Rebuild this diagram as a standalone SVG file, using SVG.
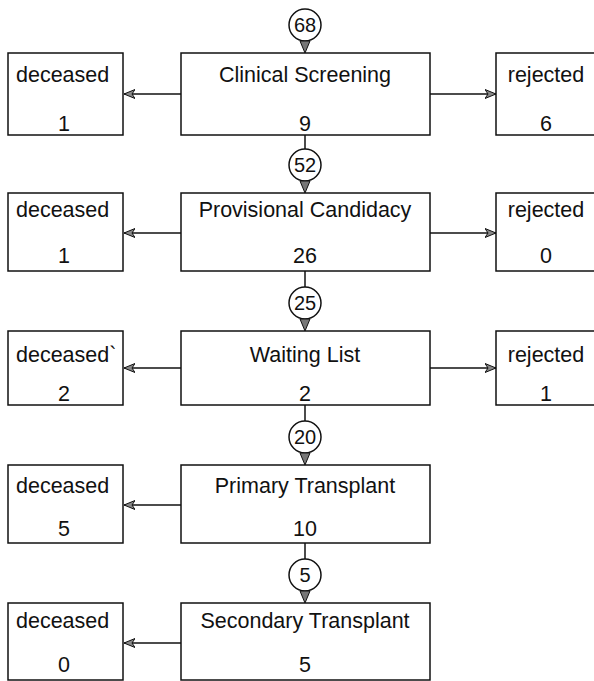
<svg xmlns="http://www.w3.org/2000/svg" width="594" height="681" viewBox="0 0 594 681">
<defs>
<style>
.box{fill:#fff;stroke:#111;stroke-width:1.5}
.t{font-family:"Liberation Sans",Arial,sans-serif;font-size:21.5px;fill:#111}
.c{font-family:"Liberation Sans",Arial,sans-serif;font-size:20px;fill:#111;text-anchor:middle}
.m{text-anchor:middle}
.ln{stroke:#111;stroke-width:1.5;fill:none}
.cnt{fill:#fff;stroke:#111;stroke-width:1.5}
.tip{fill:#777;stroke:#111;stroke-width:1}
</style>
<marker id="ah" viewBox="0 0 12 10" refX="11" refY="5" markerWidth="12" markerHeight="10" markerUnits="userSpaceOnUse" orient="auto">
<path d="M0,0.5 L11,5 L0,9.5 L3,5 Z" fill="#888" stroke="#111" stroke-width="1"/>
</marker>
</defs>
<rect width="594" height="681" fill="#fff"/>

<g id="connectors">
<line class="ln" x1="181" y1="94" x2="124" y2="94" marker-end="url(#ah)"/>
<line class="ln" x1="430" y1="94" x2="496" y2="94" marker-end="url(#ah)"/>
<line class="ln" x1="305" y1="135" x2="305" y2="149"/>
<line class="ln" x1="181" y1="233" x2="124" y2="233" marker-end="url(#ah)"/>
<line class="ln" x1="430" y1="233" x2="496" y2="233" marker-end="url(#ah)"/>
<line class="ln" x1="305" y1="271" x2="305" y2="287"/>
<line class="ln" x1="181" y1="368" x2="124" y2="368" marker-end="url(#ah)"/>
<line class="ln" x1="430" y1="368" x2="496" y2="368" marker-end="url(#ah)"/>
<line class="ln" x1="305" y1="405" x2="305" y2="421"/>
<line class="ln" x1="181" y1="505" x2="124" y2="505" marker-end="url(#ah)"/>
<line class="ln" x1="305" y1="543" x2="305" y2="559"/>
<line class="ln" x1="181" y1="643" x2="124" y2="643" marker-end="url(#ah)"/>
</g>

<g id="count68"><circle class="cnt" cx="305" cy="25" r="16"/><path class="tip" d="M300,41 L310,41 L305,53 Z"/><text class="c" x="305" y="32">68</text></g>
<g id="count52"><circle class="cnt" cx="305" cy="165" r="16"/><path class="tip" d="M300,181 L310,181 L305,193 Z"/><text class="c" x="305" y="172">52</text></g>
<g id="count25"><circle class="cnt" cx="305" cy="303" r="16"/><path class="tip" d="M300,319 L310,319 L305,331 Z"/><text class="c" x="305" y="310">25</text></g>
<g id="count20"><circle class="cnt" cx="305" cy="437" r="16"/><path class="tip" d="M300,453 L310,453 L305,465 Z"/><text class="c" x="305" y="444">20</text></g>
<g id="count5"><circle class="cnt" cx="305" cy="575" r="16"/><path class="tip" d="M300,591 L310,591 L305,603 Z"/><text class="c" x="305" y="582">5</text></g>

<g id="clinical-screening"><rect class="box" x="181" y="53" width="249" height="82"/><text class="t m" x="305" y="82">Clinical Screening</text><text class="t m" x="305" y="131">9</text></g>
<g id="deceased1"><rect class="box" x="8" y="53" width="115" height="82"/><text class="t" x="16" y="82">deceased</text><text class="t m" x="64" y="131">1</text></g>
<g id="rejected1"><rect class="box" x="496" y="53" width="102" height="82"/><text class="t m" x="546" y="82">rejected</text><text class="t m" x="546" y="131">6</text></g>

<g id="provisional-candidacy"><rect class="box" x="181" y="193" width="249" height="78"/><text class="t m" x="305" y="217">Provisional Candidacy</text><text class="t m" x="305" y="263">26</text></g>
<g id="deceased2"><rect class="box" x="8" y="193" width="115" height="78"/><text class="t" x="16" y="217">deceased</text><text class="t m" x="64" y="263">1</text></g>
<g id="rejected2"><rect class="box" x="496" y="193" width="102" height="78"/><text class="t m" x="546" y="217">rejected</text><text class="t m" x="546" y="263">0</text></g>

<g id="waiting-list"><rect class="box" x="181" y="331" width="249" height="74"/><text class="t m" x="305" y="362">Waiting List</text><text class="t m" x="305" y="401">2</text></g>
<g id="deceased3"><rect class="box" x="8" y="331" width="115" height="74"/><text class="t" x="16" y="362">deceased`</text><text class="t m" x="64" y="401">2</text></g>
<g id="rejected3"><rect class="box" x="496" y="331" width="102" height="74"/><text class="t m" x="546" y="362">rejected</text><text class="t m" x="546" y="401">1</text></g>

<g id="primary-transplant"><rect class="box" x="181" y="465" width="249" height="78"/><text class="t m" x="305" y="493">Primary Transplant</text><text class="t m" x="305" y="536">10</text></g>
<g id="deceased4"><rect class="box" x="8" y="465" width="115" height="78"/><text class="t" x="16" y="493">deceased</text><text class="t m" x="64" y="536">5</text></g>

<g id="secondary-transplant"><rect class="box" x="181" y="603" width="249" height="77"/><text class="t m" x="305" y="628">Secondary Transplant</text><text class="t m" x="305" y="672">5</text></g>
<g id="deceased5"><rect class="box" x="8" y="603" width="115" height="77"/><text class="t" x="16" y="628">deceased</text><text class="t m" x="64" y="672">0</text></g>
</svg>
